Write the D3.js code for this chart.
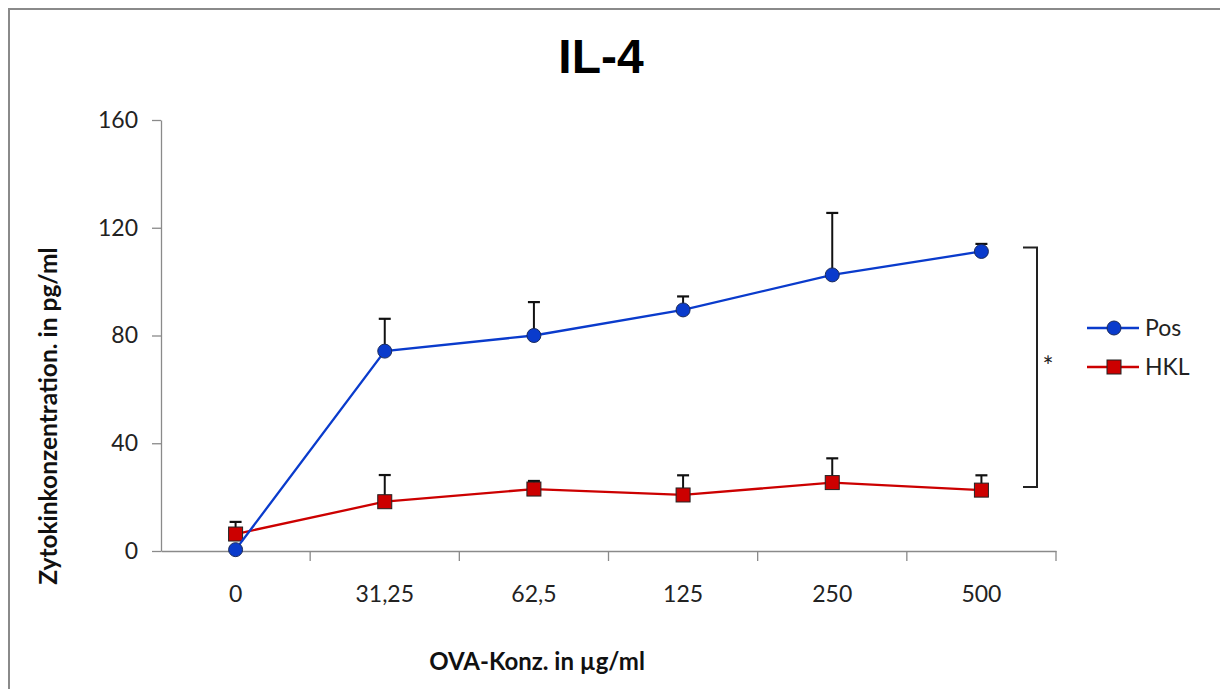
<!DOCTYPE html>
<html><head><meta charset="utf-8">
<script src="https://cdn.jsdelivr.net/npm/d3@7"></script>
<style>body{margin:0;background:#fff}svg{display:block}</style>
</head><body>
<script>
const categories = ["0","31,25","62,5","125","250","500"];
const posValues = [0.5, 74.2, 80, 89.5, 102.5, 111.2];
const posErrors = [0, 12, 12.4, 5, 23, 2.8];
const hklValues = [6.3, 18.3, 23, 20.8, 25.4, 22.6];
const hklErrors = [4.5, 9.9, 3, 7.3, 9, 5.5];
const yTicks = [0, 40, 80, 120, 160];
const seriesNames = ["Pos", "HKL"];

const W = 1220, H = 689;
const svg = d3.select("body").append("svg").attr("width", W).attr("height", H);
const font = "Lato, 'Open Sans', sans-serif";

// outer frame (only top/left edges fall inside the picture)
svg.append("rect").attr("x", 9).attr("y", 9).attr("width", W + 40).attr("height", H + 40)
  .attr("fill", "none").attr("stroke", "#8a8a8a").attr("stroke-width", 2);

const mLeft = 161, mRight = 1056, mTop = 120, mBottom = 551;
const x = d3.scaleBand().domain(categories).range([mLeft, mRight]);
const y = d3.scaleLinear().domain([0, 160]).range([mBottom, mTop]);

// Y axis
const yAxis = svg.append("g").attr("transform", `translate(${mLeft},0)`)
  .call(d3.axisLeft(y).tickValues(yTicks).tickSize(9).tickSizeOuter(0).tickPadding(14));
yAxis.select(".domain").attr("stroke", "#8a8a8a").attr("stroke-width", 1.3);
yAxis.selectAll(".tick line").attr("stroke", "#8a8a8a").attr("stroke-width", 1.3);
yAxis.selectAll("text").attr("font-family", font).attr("font-size", 23).attr("fill", "#222");

// X axis
const xAxis = svg.append("g").attr("transform", `translate(0,${mBottom})`)
  .call(d3.axisBottom(x).tickSize(0).tickPadding(35));
xAxis.select(".domain").attr("stroke", "#8a8a8a").attr("stroke-width", 1.3);
xAxis.selectAll("text").attr("font-family", font).attr("font-size", 23).attr("fill", "#222");
const bounds = categories.map(c => x(c) + x.bandwidth());
svg.append("g").selectAll("line").data(bounds).join("line")
  .attr("x1", d => d).attr("x2", d => d).attr("y1", mBottom).attr("y2", mBottom + 10)
  .attr("stroke", "#8a8a8a").attr("stroke-width", 1.3);

const cx = c => x(c) + x.bandwidth() / 2;

function drawSeries(vals, errs, color, shape) {
  const g = svg.append("g");
  const eb = g.append("g");
  categories.forEach((c, i) => {
    if (errs[i] <= 0) return;
    eb.append("line").attr("x1", cx(c)).attr("x2", cx(c)).attr("y1", y(vals[i])).attr("y2", y(vals[i] + errs[i]))
      .attr("stroke", "#111").attr("stroke-width", 2);
    eb.append("line").attr("x1", cx(c) - 6).attr("x2", cx(c) + 6).attr("y1", y(vals[i] + errs[i])).attr("y2", y(vals[i] + errs[i]))
      .attr("stroke", "#111").attr("stroke-width", 2.2);
  });
  const line = d3.line().x((d, i) => cx(categories[i])).y(d => y(d));
  g.append("path").datum(vals).attr("d", line).attr("fill", "none").attr("stroke", color).attr("stroke-width", 2.3);
  categories.forEach((c, i) => {
    if (shape === "circle") {
      g.append("circle").attr("cx", cx(c)).attr("cy", y(vals[i])).attr("r", 7)
        .attr("fill", color).attr("stroke", "#1a2a5a").attr("stroke-width", 1);
    } else {
      g.append("rect").attr("x", cx(c) - 7).attr("y", y(vals[i]) - 7).attr("width", 14).attr("height", 14)
        .attr("fill", color).attr("stroke", "#222").attr("stroke-width", 1);
    }
  });
}
const blue = "#0a3bcc", red = "#cc0000";
drawSeries(hklValues, hklErrors, red, "rect");
drawSeries(posValues, posErrors, blue, "circle");

// significance bracket
const bx = 1037;
svg.append("path")
  .attr("d", `M${bx-14},${y(posValues[5])-4} H${bx} V${y(hklValues[5])-3} H${bx-14}`)
  .attr("fill", "none").attr("stroke", "#222").attr("stroke-width", 2);
svg.append("text").attr("x", 1048).attr("y", 376).attr("text-anchor", "middle")
  .attr("font-family", font).attr("font-size", 26).attr("fill", "#222").text("*");

// legend
const legend = svg.append("g");
[[seriesNames[0], blue, "circle", 328], [seriesNames[1], red, "rect", 367]].forEach(([n, col, sh, ly]) => {
  legend.append("line").attr("x1", 1087).attr("x2", 1139).attr("y1", ly).attr("y2", ly).attr("stroke", col).attr("stroke-width", 2.3);
  if (sh === "circle") legend.append("circle").attr("cx", 1114).attr("cy", ly).attr("r", 7).attr("fill", col).attr("stroke", "#1a2a5a");
  else legend.append("rect").attr("x", 1107).attr("y", ly - 7).attr("width", 14).attr("height", 14).attr("fill", col).attr("stroke", "#222");
  legend.append("text").attr("x", 1145).attr("y", ly + 8).attr("font-family", font).attr("font-size", 23).attr("fill", "#222").text(n);
});

// title
svg.append("text").attr("x", 601).attr("y", 73).attr("text-anchor", "middle")
  .attr("font-family", "'Liberation Sans', Arial, sans-serif").attr("font-weight", "bold").attr("font-size", 48).attr("fill", "#000").text("IL-4");

// axis titles
svg.append("text").attr("transform", "translate(57,416) rotate(-90)").attr("text-anchor", "middle")
  .attr("font-family", font).attr("font-weight", "bold").attr("font-size", 24.5).attr("fill", "#111")
  .text("Zytokinkonzentration. in pg/ml");
svg.append("text").attr("x", 537).attr("y", 670).attr("text-anchor", "middle")
  .attr("font-family", font).attr("font-weight", "bold").attr("font-size", 24).attr("fill", "#111")
  .text("OVA-Konz. in µg/ml");
</script>
</body></html>
